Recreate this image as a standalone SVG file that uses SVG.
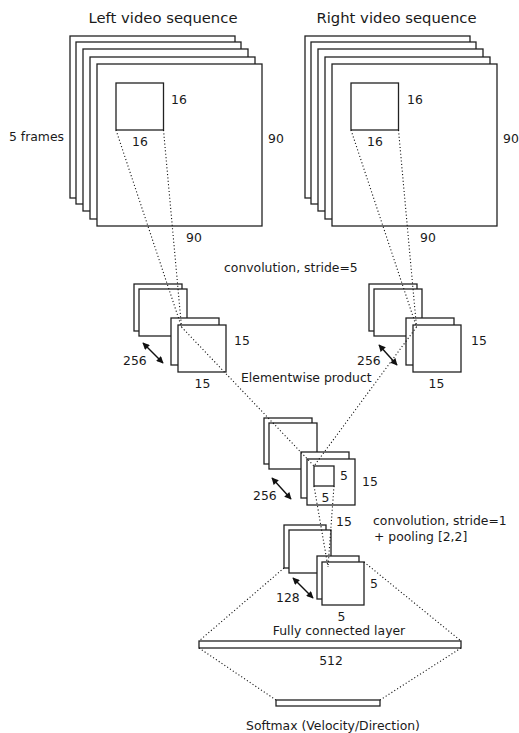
<svg xmlns="http://www.w3.org/2000/svg" width="519" height="733" viewBox="0 0 519 733">
<style>
  text { font-family: "DejaVu Sans", "Liberation Sans", sans-serif; font-size: 12.4px; fill: #1a1a1a; }
  .title { font-size: 14.8px; }
  .m { text-anchor: middle; }
  .e { text-anchor: end; }
  .box { fill: #fff; stroke: #222; stroke-width: 1.3; }
  .dot { fill: none; stroke: #111; stroke-width: 1.1; stroke-dasharray: 1.1 2.3; }
  .arr { fill: none; stroke: #111; stroke-width: 1.4; marker-start: url(#ah); marker-end: url(#ah); }
</style>
<defs>
  <marker id="ah" viewBox="0 0 10 10" refX="9" refY="5" markerWidth="8" markerHeight="7" markerUnits="userSpaceOnUse" orient="auto-start-reverse">
    <path d="M0,0 L10,5 L0,10 z" fill="#111"/>
  </marker>
</defs>
<rect width="519" height="733" fill="#fff"/>

<g id="left-video">
  <text class="title m" x="163" y="22.5">Left video sequence</text>
  <rect class="box" x="70" y="36" width="165" height="162"/>
  <rect class="box" x="76" y="42" width="165" height="162"/>
  <rect class="box" x="83" y="49" width="165" height="162"/>
  <rect class="box" x="90" y="57" width="165" height="162"/>
  <rect class="box" x="97" y="64" width="165" height="162"/>
  <rect class="box" x="116" y="83" width="47.5" height="47"/>
  <text class="e" x="64" y="141">5 frames</text>
  <text x="171" y="104">16</text>
  <text x="132" y="146">16</text>
  <text x="268" y="143">90</text>
  <text x="186" y="242">90</text>
</g>

<g id="right-video">
  <text class="title m" x="396.5" y="22.5">Right video sequence</text>
  <rect class="box" x="305" y="36" width="165" height="162"/>
  <rect class="box" x="311" y="42" width="165" height="162"/>
  <rect class="box" x="318" y="49" width="165" height="162"/>
  <rect class="box" x="325" y="57" width="165" height="162"/>
  <rect class="box" x="332" y="64" width="165" height="162"/>
  <rect class="box" x="351" y="83" width="47.5" height="47"/>
  <text x="407" y="104">16</text>
  <text x="367" y="146">16</text>
  <text x="503" y="143">90</text>
  <text x="420" y="242">90</text>
</g>

<text x="224" y="272">convolution, stride=5</text>

<g id="left-conv">
  <rect class="box" x="134" y="284" width="48" height="47"/>
  <rect class="box" x="139" y="289" width="48" height="47"/>
  <rect class="box" x="171" y="318" width="48" height="47"/>
  <rect class="box" x="178" y="325" width="48" height="47"/>
  <text x="123" y="364.5">256</text>
  <text x="234" y="345">15</text>
  <text x="194.5" y="388">15</text>
</g>

<g id="right-conv">
  <rect class="box" x="369" y="284" width="48" height="47"/>
  <rect class="box" x="374" y="289" width="48" height="47"/>
  <rect class="box" x="406" y="318" width="48" height="47"/>
  <rect class="box" x="413" y="325" width="48" height="47"/>
  <text x="357" y="364.5">256</text>
  <text x="471" y="345">15</text>
  <text x="428.5" y="388">15</text>
</g>

<text x="241" y="382">Elementwise product</text>

<g id="product">
  <rect class="box" x="264" y="418" width="48" height="46"/>
  <rect class="box" x="269" y="423" width="48" height="46"/>
  <rect class="box" x="301" y="452" width="48" height="46"/>
  <rect class="box" x="307" y="459" width="48" height="46"/>
  <rect class="box" x="314" y="466" width="20" height="20"/>
  <text x="340" y="479.5">5</text>
  <text x="362" y="485.5">15</text>
  <text x="321.5" y="502">5</text>
  <text x="253" y="499.5">256</text>
  <text x="336" y="525.5">15</text>
</g>

<text x="373" y="524.5">convolution, stride=1</text>
<text x="374" y="540.5">+ pooling [2,2]</text>

<g id="pool">
  <rect class="box" x="284" y="525" width="42" height="43"/>
  <rect class="box" x="289" y="530" width="42" height="43"/>
  <rect class="box" x="317" y="556" width="42" height="43"/>
  <rect class="box" x="322" y="562" width="42" height="43"/>
  <text x="276" y="602">128</text>
  <text x="370" y="587.5">5</text>
  <text x="337.5" y="621">5</text>
</g>

<g id="fc">
  <text class="m" x="339" y="634.5">Fully connected layer</text>
  <rect class="box" x="199" y="641" width="262" height="7"/>
  <text class="m" x="331" y="664.5">512</text>
</g>

<g id="softmax">
  <rect class="box" x="276" y="700" width="104" height="6"/>
  <text class="m" x="333" y="729.5">Softmax (Velocity/Direction)</text>
</g>

<g id="connectors">
  <path class="dot" d="M116,130 L181.5,327 M163.5,130 L181.5,327"/>
  <path class="dot" d="M351,130 L416.5,327 M398.5,130 L416.5,327"/>
  <path class="dot" d="M181.5,327 L314,466 M416.5,327 L314,466"/>
  <path class="dot" d="M314,486 L328,567 M334,486 L328,567"/>
  <path class="dot" d="M284,568 L199,641 M364,562 L461,641"/>
  <path class="dot" d="M199,648 L276,700 M461,648 L380,700"/>
  <path class="arr" d="M143,343 L163,363"/>
  <path class="arr" d="M379,345 L397,365"/>
  <path class="arr" d="M272,478 L291,499"/>
  <path class="arr" d="M293,578 L313,598"/>
</g>
</svg>
